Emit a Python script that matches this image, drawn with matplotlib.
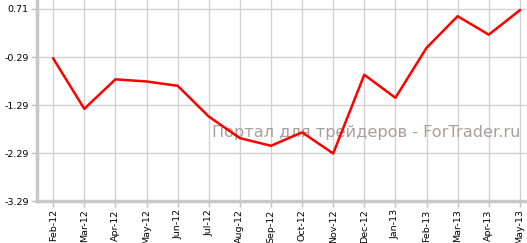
import matplotlib
matplotlib.use("Agg")
import matplotlib.pyplot as plt

months = ["Feb-12", "Mar-12", "Apr-12", "May-12", "Jun-12", "Jul-12", "Aug-12", "Sep-12",
          "Oct-12", "Nov-12", "Dec-12", "Jan-13", "Feb-13", "Mar-13", "Apr-13", "May-13"]
values = [-0.32, -1.37, -0.755, -0.80, -0.89, -1.53, -1.98, -2.14,
          -1.86, -2.30, -0.66, -1.14, -0.10, 0.56, 0.175, 0.685]
yticks = [-3.29, -2.29, -1.29, -0.29, 0.71]
ytick_labels = ["-3.29", "-2.29", "-1.29", "-0.29", "0.71"]
watermark = "Портал для трейдеров - ForTrader.ru"

fig = plt.figure(figsize=(5.27, 2.43), dpi=100)
ax = fig.add_axes([37/527, 42/243, 1 - 37/527, 1 - 42/243])

x = list(range(len(months)))
ax.plot(x, values, color="#ff0000", lw=1.8, zorder=3)

ax.set_xlim(-0.52, len(months) - 1 + 0.23)
ax.set_ylim(-3.29, -3.29 + 201/48)
ax.set_yticks(yticks)
ax.set_yticklabels(ytick_labels)
ax.set_xticks(x)
ax.set_xticklabels(months, rotation=90)

ax.grid(True, color="#d2d2d2", lw=1.0, zorder=0)
ax.set_axisbelow(True)
for s in ["top", "right"]:
    ax.spines[s].set_visible(False)
for s in ["left", "bottom"]:
    ax.spines[s].set_color("#c8c8c8")
    ax.spines[s].set_linewidth(2.5)
ax.tick_params(axis="both", colors="#c0c0c0", labelcolor="#000000", labelsize=6.8,
               length=4, width=1, pad=2)

ax.text(366, 243 - 132, watermark, transform=None, fontsize=11.6, color="#ab9e9e",
        ha="center", va="center", zorder=2)

fig.savefig("out.png", dpi=100)
